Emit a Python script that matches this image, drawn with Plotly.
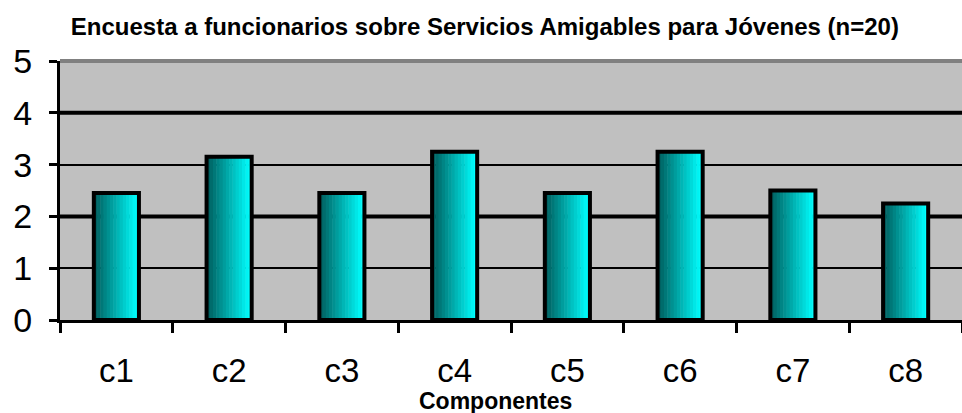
import plotly.graph_objects as go

categories = ["c1", "c2", "c3", "c4", "c5", "c6", "c7", "c8"]
values = [2.45, 3.15, 2.45, 3.25, 2.45, 3.25, 2.5, 2.25]
y_ticks = [0, 1, 2, 3, 4, 5]

FONT = "Liberation Sans, Arial, sans-serif"
BAR_W = 0.40
N_SLICES = 14

fig = go.Figure()

# horizontal gradient approximation: dark teal (left) -> cyan (right)
c0 = (0, 96, 96)
c1 = (0, 255, 255)
sw = BAR_W / N_SLICES
for i in range(N_SLICES):
    t = i / (N_SLICES - 1)
    col = tuple(int(round(a + (b - a) * t)) for a, b in zip(c0, c1))
    fig.add_trace(go.Bar(
        x=categories, y=values,
        width=sw * 1.15, offset=-BAR_W / 2 + i * sw,
        marker=dict(color="rgb(%d,%d,%d)" % col, line=dict(width=0)),
        showlegend=False, hoverinfo="skip",
    ))

# outline
fig.add_trace(go.Bar(
    x=categories, y=values, width=BAR_W, offset=-BAR_W / 2,
    marker=dict(color="rgba(0,0,0,0)", line=dict(color="black", width=4)),
    showlegend=False,
))

fig.update_layout(
    width=962, height=413,
    barmode="overlay",
    paper_bgcolor="white",
    plot_bgcolor="#C0C0C0",
    margin=dict(l=60, r=0, t=61, b=93, autoexpand=False),
    font=dict(family=FONT, color="black"),
    title=dict(
        text="<b>Encuesta a funcionarios sobre Servicios Amigables para Jóvenes (n=20)</b>",
        font=dict(size=24, family=FONT, color="black"),
        x=0.504, xanchor="center", y=1 - 27 / 413, yanchor="middle",
    ),
    xaxis=dict(
        showline=True, linecolor="black", linewidth=3,
        ticks="outside", ticklen=10, tickwidth=3, tickcolor="black",
        tickson="boundaries",
        tickfont=dict(size=33, family=FONT),
        ticklabelstandoff=19,
        showgrid=False,
    ),
    yaxis=dict(
        range=[0, 5], tickvals=y_ticks,
        showline=True, linecolor="black", linewidth=3,
        ticks="outside", ticklen=8, tickwidth=3, tickcolor="black",
        tickfont=dict(size=34, family=FONT),
        ticklabelstandoff=10,
        showgrid=True, gridcolor="black", gridwidth=2,
        zeroline=False,
    ),
)

fig.add_annotation(
    text="<b>Componentes</b>", xref="paper", yref="paper",
    x=(495 - 60) / 902, y=(320 - 401) / 259, xanchor="center", yanchor="middle",
    showarrow=False, font=dict(size=23, family=FONT, color="black"),
)

# thicker major gridlines at 2 and 4, gray top border
for yv in (2, 4):
    fig.add_shape(type="line", xref="paper", yref="y", x0=0, x1=1, y0=yv, y1=yv,
                  line=dict(color="black", width=4), layer="below")
fig.add_shape(type="line", xref="paper", yref="paper", x0=0, x1=1, y0=1, y1=1,
              line=dict(color="#808080", width=4))

fig.write_html("out.html", config={"displayModeBar": False},
               post_script="document.body.style.margin='0px';")
